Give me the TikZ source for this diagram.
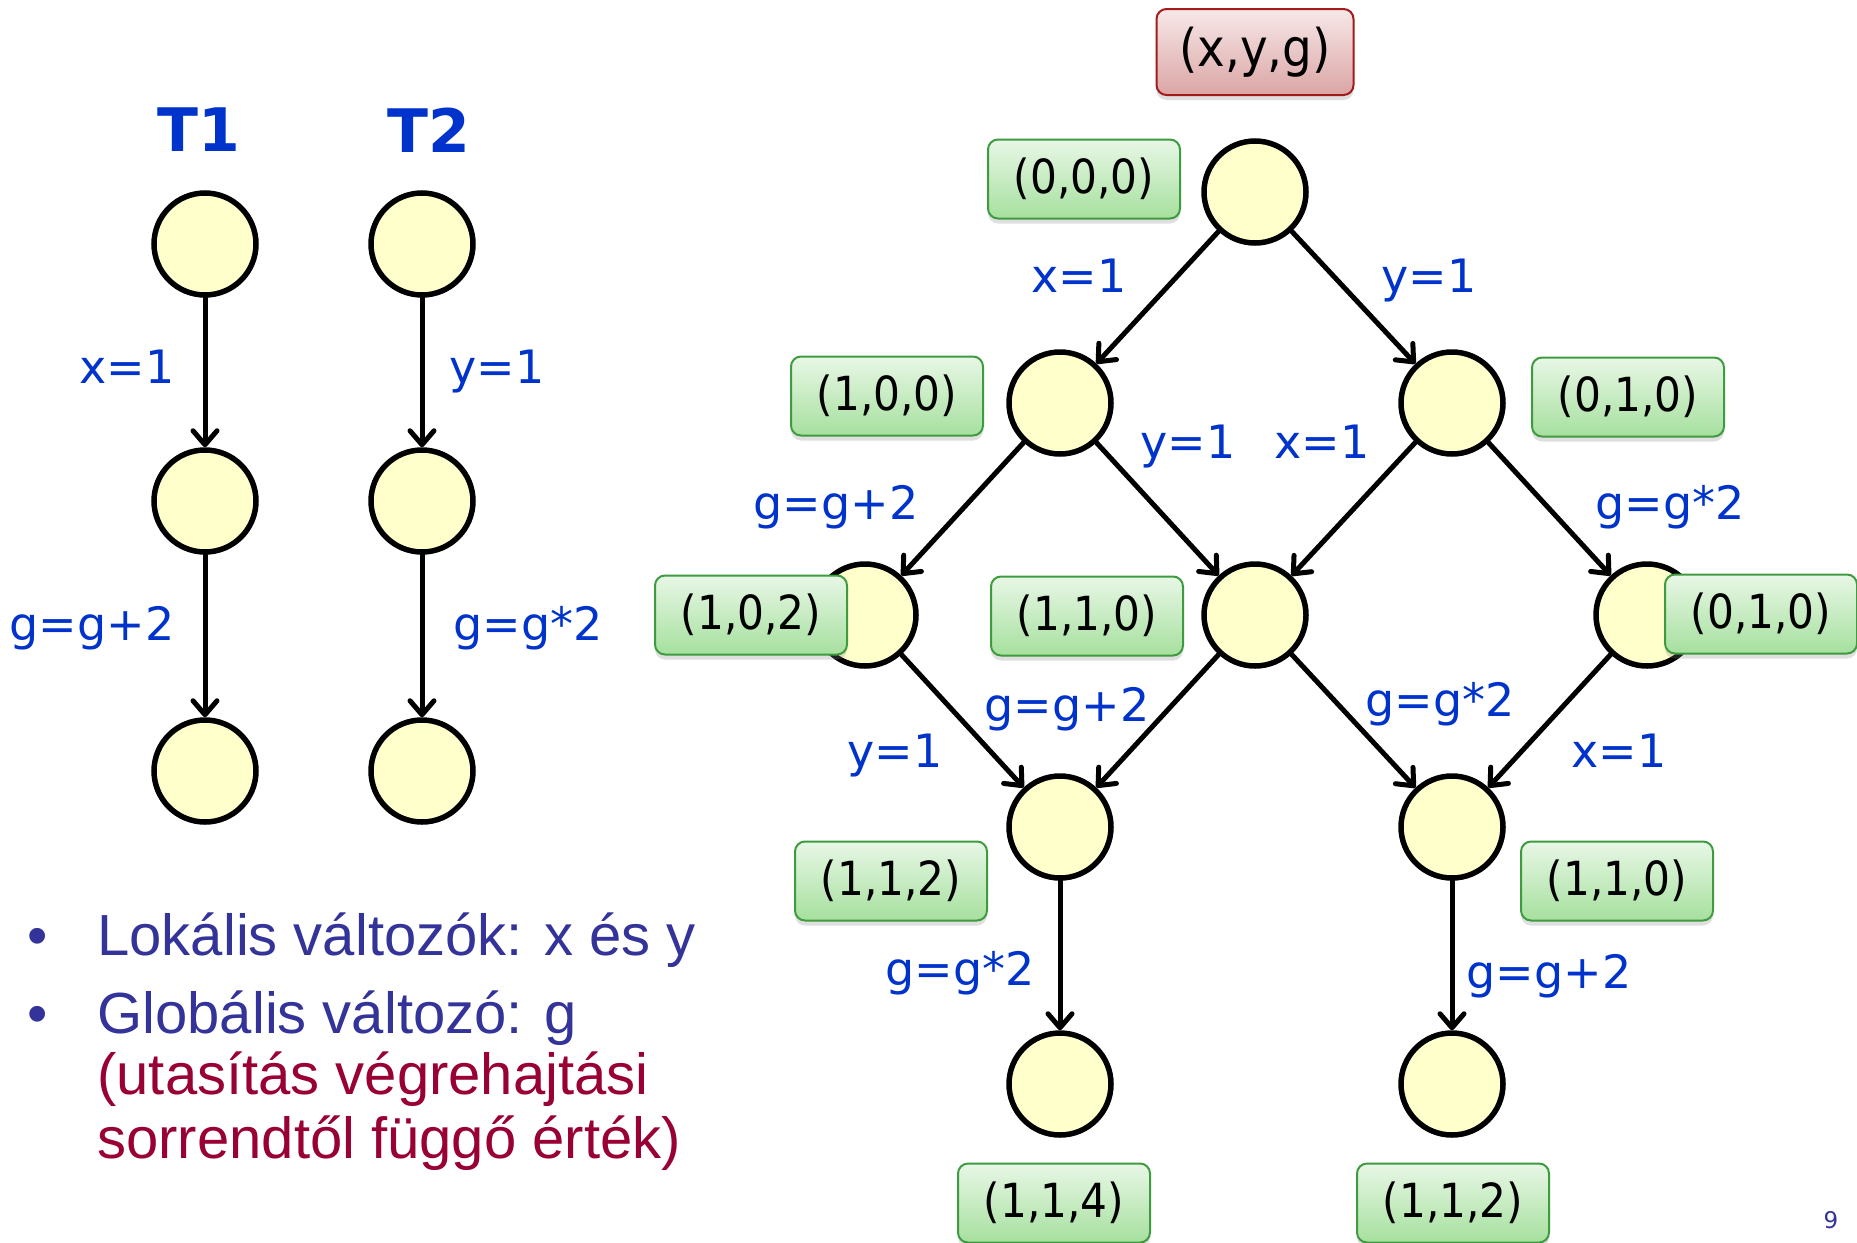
\documentclass[tikz,border=0pt]{standalone}
\usepackage{fontspec}
\setmainfont{DejaVu Sans}
\newfontfamily\arialf{Liberation Sans}
\newfontfamily\tahf{DejaVu Sans Condensed}
\usetikzlibrary{arrows.meta,shadows}
\definecolor{cyel}{HTML}{FFFFCC}
\definecolor{lblue}{HTML}{0033CC}
\definecolor{bblue}{HTML}{333399}
\definecolor{bred}{HTML}{990033}
\definecolor{gtop}{HTML}{E8F7E6}
\definecolor{gbot}{HTML}{A6E09E}
\definecolor{gbord}{HTML}{3F9B3F}
\definecolor{rtop}{HTML}{F7E8E8}
\definecolor{rbot}{HTML}{DBA5A5}
\definecolor{rbord}{HTML}{A31A1A}
\begin{document}
\begin{tikzpicture}[x=0.5pt,y=-0.5pt,
 st/.style={circle,draw=black,line width=2.75pt,fill=cyel,minimum size=51pt,inner sep=0pt},
 ar/.style={-{Straight Barb[length=7pt,width=12pt,round]},line width=2.5pt,line cap=round},
 el/.style={text=lblue,font=\fontsize{23}{26}\selectfont,inner sep=0pt,text height=0.75em,text depth=0.2em,yshift=-5.5pt},
 tl/.style={text=lblue,font=\fontsize{30}{34}\selectfont\bfseries,inner sep=0pt},
 vb/.style={rounded corners=5pt,draw=gbord,line width=1pt,top color=gtop,bottom color=gbot,
   minimum width=96pt,minimum height=39.5pt,inner sep=0pt,font=\tahf\fontsize{23.5}{26}\selectfont,
   drop shadow={opacity=0.25,shadow xshift=0pt,shadow yshift=-2.5pt}},
 hb/.style={rounded corners=5pt,draw=rbord,line width=1pt,top color=rtop,bottom color=rbot,
   minimum width=98.5pt,minimum height=43pt,inner sep=0pt,font=\tahf\fontsize{26}{29}\selectfont,
   drop shadow={opacity=0.25,shadow xshift=0pt,shadow yshift=-2.5pt}},
 bt/.style={font=\arialf\fontsize{29}{34}\selectfont,inner sep=0pt,anchor=base west},
]
\useasboundingbox (0,0) rectangle (1857,1242);
\fill[white] (0,0) rectangle (1857,1242);

% ---- left: T1 and T2
\node[tl] (t1) at (199,130) {T1};
\node[tl] (t2) at (429,130) {T2};
\node[st] (a1) at (205,244) {};
\node[st] (a2) at (205,501) {};
\node[st] (a3) at (205,771) {};
\node[st] (b1) at (422,244) {};
\node[st] (b2) at (422,501) {};
\node[st] (b3) at (422,771) {};
\draw[ar] (a1) -- (a2);
\draw[ar] (a2) -- (a3);
\draw[ar] (b1) -- (b2);
\draw[ar] (b2) -- (b3);
\node[el] (la1) at (127,367) {x=1};
\node[el] (la2) at (92,624) {g=g+2};
\node[el] (lb1) at (497,367) {y=1};
\node[el] (lb2) at (528,624) {g=g*2};

% ---- bullets
\node[bt,text=bblue] (bu1) at (27,955) {•};
\node[bt,text=bblue] (tx1) at (97,955) {Lokális változók: x és y};
\node[bt,text=bblue] (bu2) at (27,1033) {•};
\node[bt,text=bblue] (tx2) at (97,1033) {Globális változó: g};
\node[bt,text=bred] (tx3) at (97,1094) {(utasítás végrehajtási};
\node[bt,text=bred] (tx4) at (97,1158) {sorrendtől függő érték)};

% ---- right: state graph
\node[st] (r0) at (1255,192) {};
\node[st] (r1l) at (1060,403) {};
\node[st] (r1r) at (1452,403) {};
\node[st] (r2l) at (865,615) {};
\node[st] (r2m) at (1255,615) {};
\node[st] (r2r) at (1647,615) {};
\node[st] (r3l) at (1060,827) {};
\node[st] (r3r) at (1452,827) {};
\node[st] (r4l) at (1060,1084) {};
\node[st] (r4r) at (1452,1084) {};

\draw[ar] (r0) -- (r1l);
\draw[ar] (r0) -- (r1r);
\draw[ar] (r1l) -- (r2l);
\draw[ar] (r1l) -- (r2m);
\draw[ar] (r1r) -- (r2m);
\draw[ar] (r1r) -- (r2r);
\draw[ar] (r2l) -- (r3l);
\draw[ar] (r2m) -- (r3l);
\draw[ar] (r2m) -- (r3r);
\draw[ar] (r2r) -- (r3r);
\draw[ar] (r3l) -- (r4l);
\draw[ar] (r3r) -- (r4r);

\node[el] (e1) at (1079,276) {x=1};
\node[el] (e2) at (1429,276) {y=1};
\node[el] (e3) at (1188,442) {y=1};
\node[el] (e4) at (1322,442) {x=1};
\node[el] (e5) at (836,503) {g=g+2};
\node[el] (e6) at (1670,503) {g=g*2};
\node[el] (e7) at (895,751) {y=1};
\node[el] (e8) at (1067,705) {g=g+2};
\node[el] (e9) at (1440,700) {g=g*2};
\node[el] (e10) at (1619,751) {x=1};
\node[el] (e11) at (960,969) {g=g*2};
\node[el] (e12) at (1549,972) {g=g+2};

\node[hb] (hdr) at (1255,52) {(x,y,g)};
\node[vb] (s0) at (1084,179) {(0,0,0)};
\node[vb] (s1l) at (887,396) {(1,0,0)};
\node[vb] (s1r) at (1628,397) {(0,1,0)};
\node[vb] (s2l) at (751,615) {(1,0,2)};
\node[vb] (s2m) at (1087,616) {(1,1,0)};
\node[vb] (s2r) at (1761,614) {(0,1,0)};
\node[vb] (s3l) at (891,881) {(1,1,2)};
\node[vb] (s3r) at (1617,881) {(1,1,0)};
\node[vb] (s4l) at (1054,1203) {(1,1,4)};
\node[vb] (s4r) at (1453,1203) {(1,1,2)};

\node[text=bblue,font=\fontsize{11.5}{13}\selectfont,inner sep=0pt] (pg) at (1831,1220) {9};
\end{tikzpicture}
\end{document}
